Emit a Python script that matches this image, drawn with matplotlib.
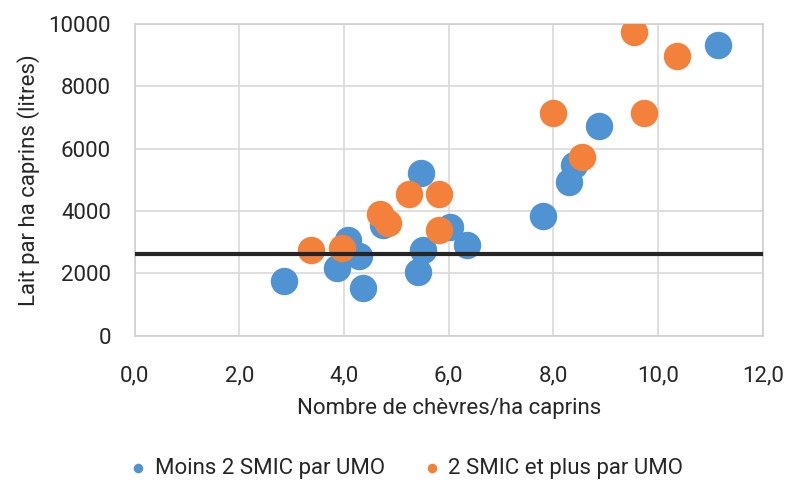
import matplotlib

matplotlib.use("Agg")
import matplotlib.pyplot as plt
from matplotlib.ticker import FuncFormatter, MultipleLocator

plt.rcParams["font.family"] = ["Liberation Sans Narrow", "Roboto", "DejaVu Sans"]

# chèvres/ha caprins, lait par ha caprins (litres)
moins_x = [2.86, 3.86, 4.07, 4.29, 4.37, 4.75, 5.41, 5.47, 5.51, 6.03, 6.36,
           7.81, 8.30, 8.40, 8.88, 11.15]
moins_y = [1770, 2170, 3077, 2574, 1529, 3558, 2061, 5234, 2756, 3503, 2917,
           3846, 4936, 5481, 6731, 9337]

plus_x = [3.37, 3.96, 4.68, 4.85, 5.24, 5.82, 5.82, 7.99, 8.54, 9.54, 9.74, 10.36]
plus_y = [2756, 2811, 3910, 3612, 4542, 4542, 3397, 7138, 5747, 9734, 7138, 8984]

seuil = 2640

BLUE = "#5093d2"
ORANGE = "#f3813b"

fig = plt.figure(figsize=(7.9, 4.86), dpi=100)
ax = fig.add_axes([0.1704, 0.309, 0.795, 0.6416])

ax.scatter(moins_x, moins_y, s=390, color=BLUE, linewidths=0, zorder=3,
           label="Moins 2 SMIC par UMO")
ax.scatter(plus_x, plus_y, s=390, color=ORANGE, linewidths=0, zorder=4,
           label="2 SMIC et plus par UMO")
ax.axhline(seuil, color="#262626", linewidth=3, zorder=5)

ax.set_xlim(0, 12)
ax.set_ylim(0, 10000)
ax.xaxis.set_major_locator(MultipleLocator(2))
ax.yaxis.set_major_locator(MultipleLocator(2000))
ax.xaxis.set_major_formatter(FuncFormatter(lambda v, p: f"{v:.1f}".replace(".", ",")))
ax.yaxis.set_major_formatter(FuncFormatter(lambda v, p: f"{v:.0f}"))
ax.grid(color="#d9d9d9", linewidth=1.2, zorder=0)
ax.set_axisbelow(True)
for sp in ax.spines.values():
    sp.set_color("#d0d0d0")
    sp.set_linewidth(1.2)
ax.tick_params(length=0, labelsize=16, colors="#262626")
ax.tick_params(axis="y", pad=17)
ax.tick_params(axis="x", pad=21)

ax.set_xlabel("Nombre de chèvres/ha caprins", fontsize=16, color="#262626", labelpad=9)
ax.set_ylabel("Lait par ha caprins (litres)", fontsize=16, color="#262626", labelpad=6)

fig.legend(loc="center", bbox_to_anchor=(0.513, 0.036), ncol=2, frameon=False,
           fontsize=16, markerscale=0.35, handlelength=1.0, handletextpad=0.25,
           columnspacing=1.6, labelcolor="#262626")

fig.savefig("out.png", dpi=100)
